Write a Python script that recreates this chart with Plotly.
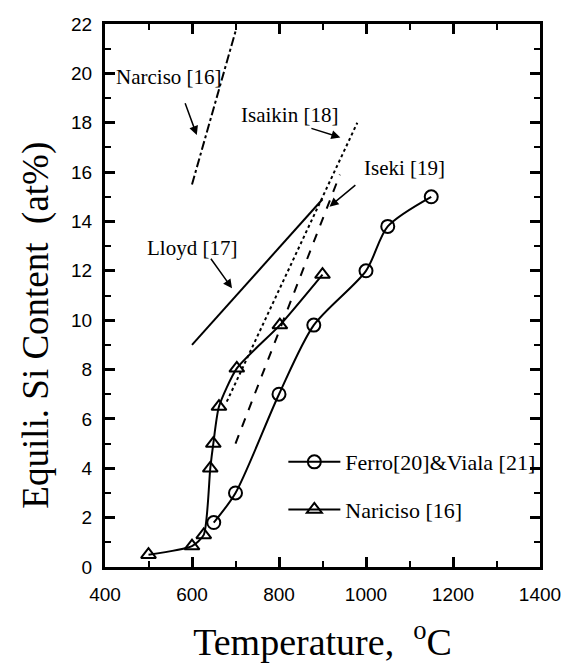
import plotly.graph_objects as go

# Ferro[20] & Viala[21] (circles)
ferro_T = [650, 700, 800, 880, 1000, 1050, 1150]
ferro_Si = [1.8, 3.0, 7.0, 9.8, 12.0, 13.8, 15.0]

# Nariciso [16] (triangles)
nar_T = [500, 600, 627, 642, 649, 662, 703, 802, 900]
nar_Si = [0.5, 0.85, 1.3, 4.0, 5.0, 6.5, 8.05, 9.8, 11.85]

# Literature lines
narciso_line_T = [600, 700]
narciso_line_Si = [15.5, 21.7]
lloyd_T = [600, 900]
lloyd_Si = [9.0, 14.9]
isaikin_T = [680, 980]
isaikin_Si = [6.7, 18.0]
iseki_T = [700, 940]
iseki_Si = [5.0, 15.9]

# Labels and arrows
label_text = ["Narciso [16]", "Isaikin [18]", "Iseki [19]", "Lloyd [17]"]
label_T = [547, 823, 1088, 601]
label_Si = [19.87, 18.31, 16.17, 12.93]
arrow_tail_T = [583, 871, 979, 641]
arrow_tail_Si = [18.85, 17.79, 15.52, 12.55]
arrow_head_T = [611, 941, 916, 692]
arrow_head_Si = [17.5, 17.4, 14.6, 11.29]

serif = "Liberation Serif"
sans = "Liberation Sans"

fig = go.Figure()

for T, S, dash in [(narciso_line_T, narciso_line_Si, "dashdot"),
                   (lloyd_T, lloyd_Si, "solid"),
                   (isaikin_T, isaikin_Si, "dot"),
                   (iseki_T, iseki_Si, "dash")]:
    fig.add_trace(go.Scatter(x=T, y=S, mode="lines", showlegend=False,
                             line=dict(color="black", width=2, dash=dash)))

fig.add_trace(go.Scatter(
    x=ferro_T, y=ferro_Si, mode="lines+markers", name="Ferro[20]&Viala [21]",
    legendgroup="a",
    line=dict(color="black", width=2, shape="spline", smoothing=0.8),
    marker=dict(symbol="circle-open", size=13, color="black", line=dict(width=2))))
fig.add_trace(go.Scatter(
    x=nar_T, y=nar_Si, mode="lines+markers", name="Nariciso [16]",
    legendgroup="b",
    line=dict(color="black", width=2, shape="spline", smoothing=0.6),
    marker=dict(symbol="triangle-up-open", size=13, color="black", line=dict(width=2))))

for t, x, y in zip(label_text, label_T, label_Si):
    fig.add_annotation(x=x, y=y, text=t, showarrow=False,
                       font=dict(family=serif, size=21, color="black"))
for tx, ty, hx, hy in zip(arrow_tail_T, arrow_tail_Si, arrow_head_T, arrow_head_Si):
    fig.add_annotation(x=hx, y=hy, ax=tx, ay=ty, axref="x", ayref="y", text="",
                       showarrow=True, arrowhead=2, arrowsize=1.2, arrowwidth=1.5,
                       arrowcolor="black", standoff=0, startstandoff=0)

# y-axis title (placed as paper annotation to match its offset position)
fig.add_annotation(xref="paper", yref="paper", x=-0.158, y=0.445,
                   text="Equili. Si Content&nbsp;&nbsp;(at%)", textangle=-90,
                   showarrow=False, xanchor="center", yanchor="middle",
                   font=dict(family=serif, size=37, color="black"))

axis_common = dict(showline=True, linecolor="black", linewidth=3, mirror="ticks",
                   ticks="inside", ticklen=10, tickwidth=2.5, tickcolor="black",
                   showgrid=False, zeroline=False,
                   tickfont=dict(family=sans, size=19, color="black"))

fig.update_xaxes(range=[400, 1400], tick0=400, dtick=200,
                 minor=dict(ticks="inside", ticklen=6, tickwidth=2, dtick=100, tickcolor="black"),
                 title=dict(text="Temperature,&nbsp;&nbsp;<sup>o</sup>C", standoff=25,
                            font=dict(family=serif, size=38, color="black")),
                 ticklabelstandoff=8, **axis_common)
fig.update_yaxes(range=[0, 22], tick0=0, dtick=2,
                 minor=dict(ticks="inside", ticklen=6, tickwidth=2, dtick=1, tickcolor="black"),
                 ticklabelstandoff=6, **axis_common)

fig.update_layout(
    width=573, height=670,
    margin=dict(l=105, r=26, t=24, b=103),
    plot_bgcolor="white", paper_bgcolor="white",
    legend=dict(x=0.41, y=0.232, xanchor="left", yanchor="top",
                font=dict(family=serif, size=22, color="black"),
                bgcolor="rgba(0,0,0,0)", itemwidth=52, tracegroupgap=16,
                traceorder="grouped"),
)

fig.write_html("out.html")
